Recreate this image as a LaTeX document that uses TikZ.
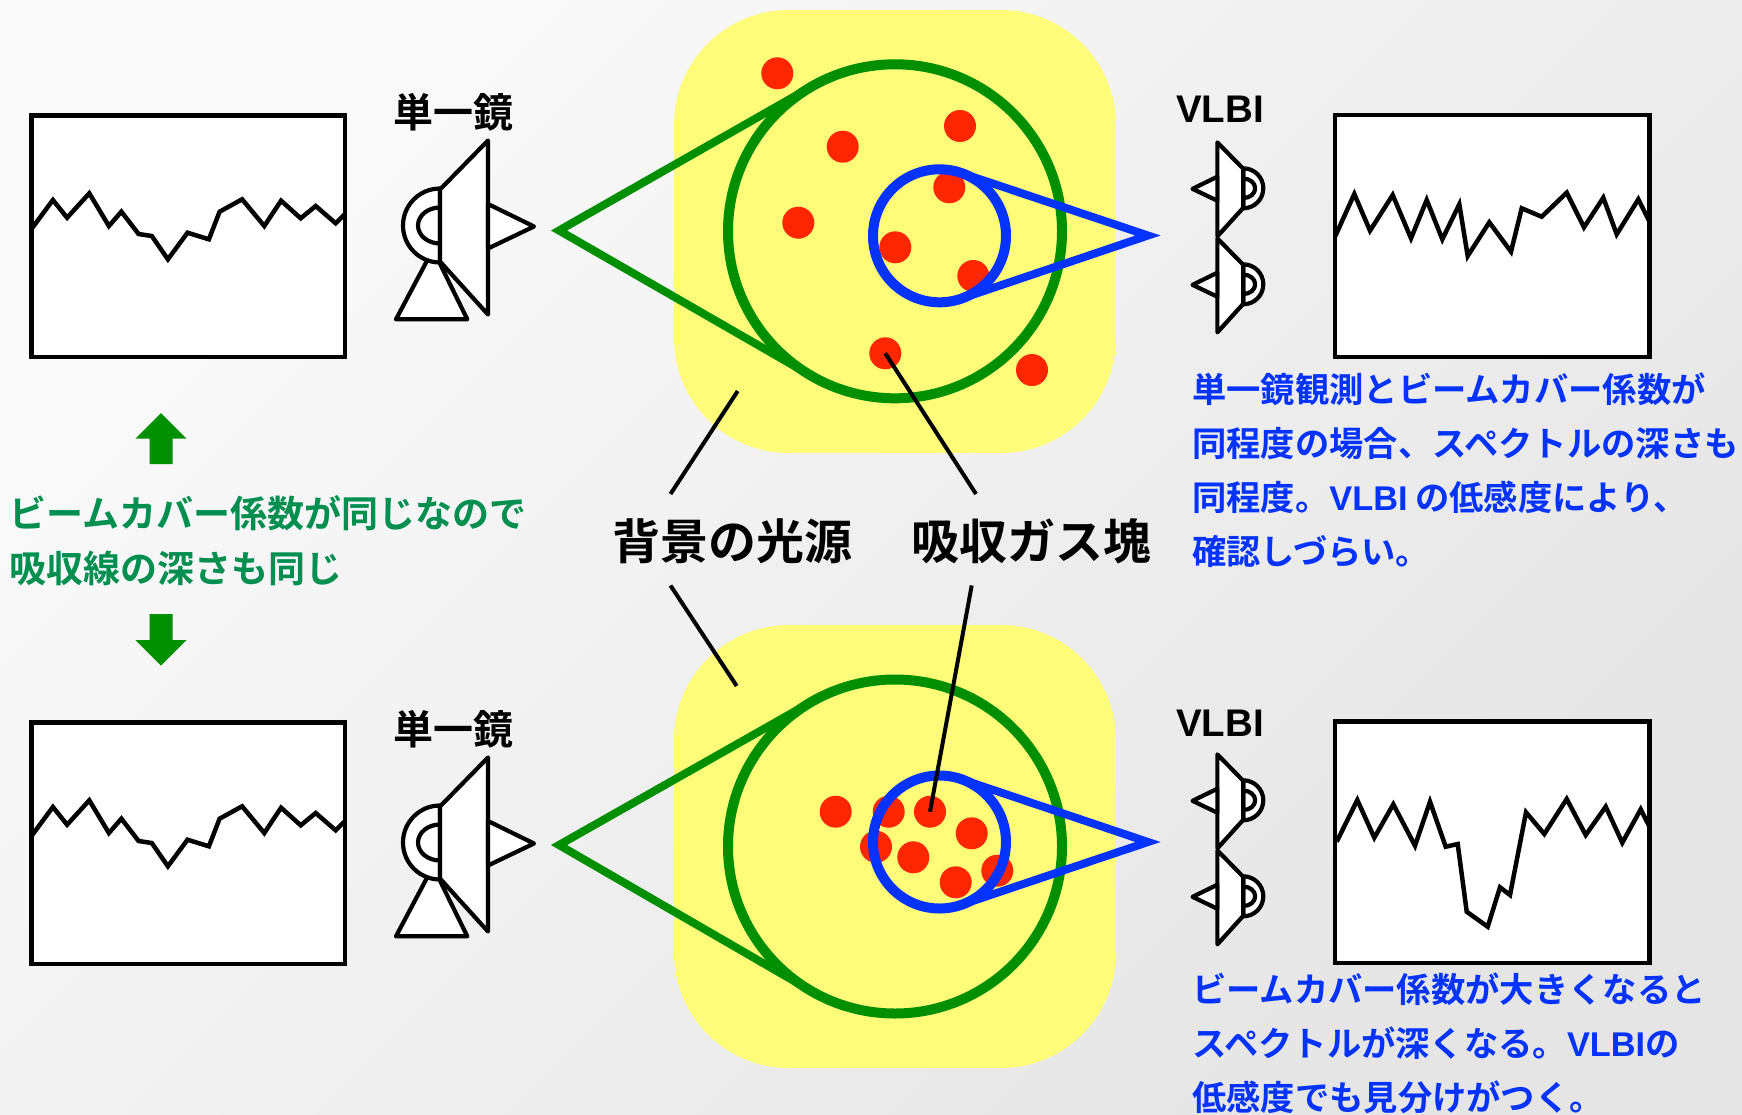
\documentclass[tikz,border=0pt]{standalone}
\usepackage{fontspec}
\setmainfont{Noto Sans CJK JP}[BoldFont={Noto Sans CJK JP Bold}]
\newfontfamily\latinface{Liberation Sans}
\usetikzlibrary{calc}

\definecolor{paperlight}{RGB}{250,250,250}
\definecolor{paperdark}{RGB}{229,229,229}
\definecolor{banana}{RGB}{255,252,121}
\definecolor{clover}{RGB}{0,143,0}
\definecolor{moss}{RGB}{0,143,81}
\definecolor{blueberry}{RGB}{4,51,255}
\definecolor{maraschino}{RGB}{255,38,0}

\newcommand{\vlbiword}{{\latinface\bfseries VLBI}}

\tikzset{
  specbox/.style={draw=black, fill=white, line width=4.5pt},
  specline/.style={draw=black, line width=4.5pt, line join=miter},
  dishline/.style={draw=black, fill=white, line width=4.2pt, line join=round},
  gasdot/.style={circle, fill=maraschino, minimum size=32pt, inner sep=0pt},
  greenring/.style={circle, draw=clover, line width=10pt, minimum size=334pt, inner sep=0pt, outer sep=0pt},
  bluering/.style={circle, draw=blueberry, line width=10pt, minimum size=133pt, inner sep=0pt, outer sep=0pt},
  greencone/.style={draw=clover, line width=8pt},
  bluecone/.style={draw=blueberry, line width=8pt},
  pointer/.style={draw=black, line width=4pt},
  glow/.style={fill=banana, rounded corners=115pt},
  scopename/.style={font=\fontsize{40}{48}\selectfont\bfseries, inner sep=0pt},
  vlbiname/.style={font=\fontsize{38.5}{46}\selectfont\latinface\bfseries, inner sep=0pt},
  bigname/.style={font=\fontsize{48}{58}\selectfont\bfseries, inner sep=0pt},
  bluenote/.style={font=\fontsize{34.3}{54}\selectfont\bfseries, text=blueberry, align=left, anchor=north west, inner sep=0pt},
  greennote/.style={font=\fontsize{37}{55.5}\selectfont\bfseries, text=moss, align=left, anchor=north west, inner sep=0pt},
  bigarrow/.style={fill=clover},
  dish/.pic={
    \path[dishline] (0,-37) arc[start angle=270, end angle=90, radius=37] -- cycle;
    \path[dishline] (0,-18) arc[start angle=270, end angle=90, x radius=22, y radius=18] -- cycle;
    \path[dishline] (0,-36) -- (48,-85) -- (48,89) -- (0,36) -- cycle;
    \path[dishline] (48,-21.5) -- (94,1) -- (48,23) -- cycle;
  },
}

\begin{document}
\begin{tikzpicture}[x=1pt, y=-1pt]
\useasboundingbox (0,0) rectangle (1742,1114);
\clip (0,0) rectangle (1742,1114);
\shade[top color=paperlight, bottom color=paperdark, shading angle=45] (0,0) rectangle (1742,1114);

% background light sources
\path[glow] (674,10) rectangle (1116,453);
\path[glow] (674,625) rectangle (1116,1068);

% absorbing gas clumps, upper panel
\node[gasdot] (t1) at (777.3,73.3) {};
\node[gasdot] (t2) at (842.7,146.7) {};
\node[gasdot] (t3) at (960,126) {};
\node[gasdot] (t4) at (798.3,222.7) {};
\node[gasdot] (t5) at (949.3,187.3) {};
\node[gasdot] (t6) at (895.3,247.3) {};
\node[gasdot] (t7) at (973.3,276) {};
\node[gasdot] (t8) at (885.3,353.3) {};
\node[gasdot] (t9) at (1032,370) {};

% absorbing gas clumps, lower panel
\node[gasdot] (b1) at (835.7,811.7) {};
\node[gasdot] (b2) at (888.7,811.7) {};
\node[gasdot] (b3) at (930,811.7) {};
\node[gasdot] (b4) at (971.7,833.3) {};
\node[gasdot] (b5) at (876,846.7) {};
\node[gasdot] (b6) at (913.3,857.3) {};
\node[gasdot] (b7) at (955.7,882.3) {};
\node[gasdot] (b8) at (997.3,870.7) {};

% single-dish beams
\node[greenring] (gt) at (895,231.3) {};
\coordinate (gtapex) at (559,230.5);
\draw[greencone] (tangent cs:node=gt,point={(gtapex)},solution=1) -- (gtapex) -- (tangent cs:node=gt,point={(gtapex)},solution=2);
\node[greenring] (gb) at (895,846.5) {};
\coordinate (gbapex) at (559,845);
\draw[greencone] (tangent cs:node=gb,point={(gbapex)},solution=1) -- (gbapex) -- (tangent cs:node=gb,point={(gbapex)},solution=2);

% VLBI beams
\node[bluering] (bt) at (939.5,235.8) {};
\coordinate (btapex) at (1148,235.5);
\draw[bluecone] (tangent cs:node=bt,point={(btapex)},solution=1) -- (btapex) -- (tangent cs:node=bt,point={(btapex)},solution=2);
\node[bluering] (bb) at (939.5,842) {};
\coordinate (bbapex) at (1148,842);
\draw[bluecone] (tangent cs:node=bb,point={(bbapex)},solution=1) -- (bbapex) -- (tangent cs:node=bb,point={(bbapex)},solution=2);

% labels and leader lines
\node[bigname] (lab1) at (732,541) {背景の光源};
\node[bigname] (lab2) at (1031,541) {吸収ガス塊};
\coordinate (p1a) at (737.7,391);
\coordinate (p1b) at (670.5,494);
\coordinate (p2a) at (976,494);
\coordinate (p3a) at (670.5,585.5);
\coordinate (p3b) at (736.7,686);
\coordinate (p4a) at (971.7,585.5);
\draw[pointer] (p1a) -- (p1b);
\draw[pointer] (p2a) -- (t8.center);
\draw[pointer] (p3a) -- (p3b);
\draw[pointer] (p4a) -- (b3.center);

% single-dish spectra (identical in both panels)
\foreach \dy in {0,607} {
  \begin{scope}[shift={(0,\dy)}]
    \draw[specbox] (31.5,115.5) rectangle (345,357);
    \draw[specline] (32,228.3) -- (52.9,200) -- (67.1,217.7) -- (89.3,193.3) -- (108.9,226)
      -- (121.4,211.7) -- (138.6,234) -- (151.8,236) -- (167.9,259.3) -- (187.5,232.7)
      -- (208.9,239.3) -- (219.6,211.7) -- (242.1,199.3) -- (264.3,226) -- (281.1,200.7)
      -- (300.7,218.3) -- (315.7,206) -- (335.7,223.3) -- (345,214);
  \end{scope}
}

% single dishes
\foreach \dy in {0,617} {
  \begin{scope}[shift={(0,\dy)}]
    \path[dishline] (433,249.5) -- (396,319.3) -- (467.3,319.3) -- cycle;
    \pic at (440,225.5) {dish};
  \end{scope}
}
\node[scopename] (sd1) at (453,112) {単一鏡};
\node[scopename] (sd2) at (453,729) {単一鏡};

% VLBI antenna pairs
\foreach \dy in {0,612} {
  \begin{scope}[shift={(0,\dy)}]
    \pic[scale=0.54, xscale=-1] at (1243.3,188.3) {dish};
    \pic[scale=0.54, xscale=-1] at (1243.3,284.3) {dish};
  \end{scope}
}
\node[vlbiname] (vl1) at (1220,109) {VLBI};
\node[vlbiname] (vl2) at (1220,723) {VLBI};

% VLBI spectra
\draw[specbox] (1335,115) rectangle (1649.5,357);
\draw[specline] (1335,236.7) -- (1354.3,194) -- (1370,230.7) -- (1392.7,195) -- (1411,238.3)
  -- (1426.7,200) -- (1442.3,239.3) -- (1459.3,204.3) -- (1467.7,256) -- (1489.3,222.3)
  -- (1511,251.7) -- (1521.7,208.3) -- (1541.7,216.7) -- (1566.7,192.7) -- (1584,227.3)
  -- (1603.3,197.7) -- (1616.7,234.3) -- (1638.3,199.3) -- (1649.5,221.7);
\draw[specbox] (1335,721.5) rectangle (1649.5,963);
\draw[specline] (1336.7,841.7) -- (1357.3,800) -- (1374.3,837.7) -- (1393.3,804.3) -- (1415,845.7)
  -- (1430,801.7) -- (1445.7,846.7) -- (1457.7,844) -- (1466.7,911.7) -- (1487.7,926.7)
  -- (1500,887.3) -- (1510,895) -- (1526,812.3) -- (1544.3,834) -- (1566.7,799)
  -- (1585.7,835) -- (1605.7,806.7) -- (1622.3,842.7) -- (1640.7,809.3) -- (1649.5,826.7);

% comparison arrows and caption
\fill[bigarrow] (161,413) -- (186.5,438.5) -- (172.5,438.5) -- (172.5,464) -- (149.5,464)
  -- (149.5,438.5) -- (135.5,438.5) -- cycle;
\fill[bigarrow] (161,665.5) -- (186.5,640) -- (172.5,640) -- (172.5,614) -- (149.5,614)
  -- (149.5,640) -- (135.5,640) -- cycle;
\node[greennote] (gnote) at (9,495) {ビームカバー係数が同じなので\\吸収線の深さも同じ};

% explanatory notes
\node[bluenote] (note1) at (1192,373) {単一鏡観測とビームカバー係数が\\同程度の場合、スペクトルの深さも\\同程度。\vlbiword{} の低感度により、\\確認しづらい。};
\node[bluenote] (note2) at (1192,973) {ビームカバー係数が大きくなると\\スペクトルが深くなる。\vlbiword の\\低感度でも見分けがつく。};
\end{tikzpicture}
\end{document}
